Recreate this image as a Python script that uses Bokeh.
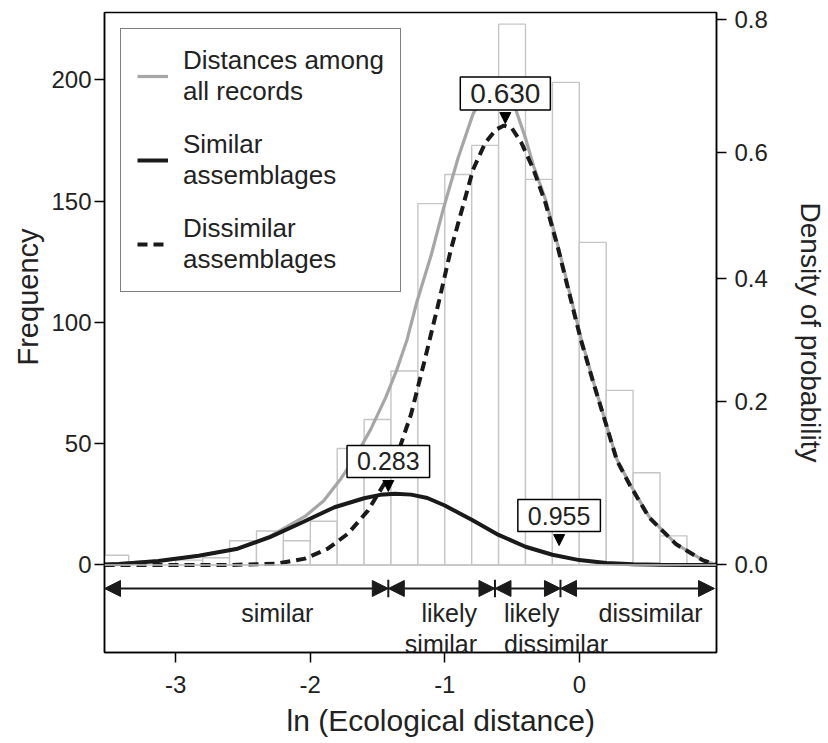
from bokeh.plotting import figure
from bokeh.models import (Range1d, LinearAxis, FixedTicker, CustomJSTickFormatter, Legend,
                          LegendItem, Label, Arrow, NormalHead, Span, ColumnDataSource, Title)
from bokeh.embed import file_html
from bokeh.resources import INLINE

FONT = "Liberation Sans"
INK = "#222222"

# ---------------- data ----------------
# histogram of ln(ecological distance), bin width 0.2
bin_left = [-3.55, -3.0, -2.8, -2.6, -2.4, -2.2, -2.0, -1.8, -1.6, -1.4, -1.2, -1.0,
            -0.8, -0.6, -0.4, -0.2, 0.0, 0.2, 0.4, 0.6]
bin_count = [4, 2, 3, 10, 14, 10, 18, 48, 60, 80, 149, 161, 173, 223, 159, 199, 133, 72, 38, 12]
bin_width = 0.2

# fitted curves (expressed on the frequency scale)
all_x = [-3.53, -3.13, -2.83, -2.54, -2.3, -2.04, -1.9, -1.78, -1.66, -1.55, -1.44, -1.36,
         -1.28, -1.21, -1.1, -1.01, -0.9, -0.79, -0.7, -0.62, -0.54, -0.47, -0.4, -0.34,
         -0.25, -0.16, -0.075, 0.013, 0.1, 0.19, 0.28, 0.375, 0.52, 0.72, 0.92, 1.02]
all_y = [0.2, 1.6, 3.8, 6.8, 11.8, 20.0, 26.5, 35.0, 45.0, 56.0, 69.0, 80.0,
         93.0, 108.0, 128.0, 147.0, 168.0, 186.0, 195.0, 198.0, 195.0, 187.4, 176.0, 164.5,
         150.5, 132.0, 113.0, 93.5, 76.5, 60.0, 43.5, 33.5, 19.8, 8.6, 2.0, 0.0]

similar_x = [-3.53, -3.42, -3.13, -2.83, -2.54, -2.3, -2.05, -1.82, -1.6, -1.48, -1.37, -1.25,
             -1.13, -1.0, -0.8, -0.6, -0.4, -0.2, 0.0, 0.2, 0.4, 0.6, 0.8, 1.02]
similar_y = [0.2, 0.4, 1.6, 3.8, 6.7, 11.5, 17.8, 23.8, 27.5, 28.9, 29.4, 29.0,
             27.6, 24.5, 18.6, 12.4, 7.5, 4.2, 2.0, 0.8, 0.3, 0.1, 0.0, 0.0]

dissimilar_x = [-3.53, -2.6, -2.25, -2.04, -1.87, -1.72, -1.57, -1.45, -1.35, -1.25, -1.15,
                -1.04, -0.955, -0.87, -0.79, -0.7, -0.62, -0.56, -0.5, -0.43, -0.34, -0.25,
                -0.16, -0.075, 0.013, 0.1, 0.19, 0.28, 0.375, 0.52, 0.72, 0.92, 1.02]
dissimilar_y = [0.0, 0.0, 0.5, 2.6, 6.7, 12.9, 22.5, 33.5, 45.9, 62.3, 84.3,
                109.5, 130.0, 147.0, 163.0, 174.0, 179.5, 181.2, 180.0, 174.0, 163.0, 149.0,
                131.0, 112.0, 92.6, 76.0, 59.6, 43.0, 33.0, 19.5, 8.5, 1.9, 0.0]

# axis ticks
freq_ticks = [0, 50, 100, 150, 200]
x_ticks = [-3, -2, -1, 0]
density_labels = ["0.0", "0.2", "0.4", "0.6", "0.8"]
density_tick_at = [0, 67.5, 118.0, 170.0, 225.0]   # where the density ticks sit on the frequency scale

# threshold markers
marker_labels = ["0.283", "0.630", "0.955"]
marker_x = [-1.42, -0.55, -0.15]
marker_y = [30.3, 182.0, 8.0]
marker_font = ["25px", "28px", "25px"]

# zones along the bottom
zone_bounds = [-3.53, -1.42, -0.627, -0.14, 1.005]
zone_names = ["similar", "likely\nsimilar", "likely\ndissimilar", "dissimilar"]
zone_label_x = [-2.245, -0.76, -0.56, 0.53]
zone_align = ["center", "right", "left", "center"]
zone_arrow_y = -9.7
zone_text_y = -14.0

X0, X1 = -3.53, 1.02
Y0, Y1 = -36.1, 227.8

# ---------------- figure ----------------
p = figure(width=828, height=743, x_range=Range1d(X0, X1), y_range=Range1d(Y0, Y1),
           output_backend="svg", toolbar_location=None,
           min_border_left=104, min_border_right=111, min_border_top=12, min_border_bottom=91)
p.grid.visible = False
p.outline_line_color = "black"
p.outline_line_width = 1.5
p.background_fill_color = "white"
p.border_fill_color = "white"

# histogram
hist = ColumnDataSource(dict(left=bin_left,
                             right=[l + bin_width for l in bin_left],
                             top=bin_count,
                             bottom=[0] * len(bin_left)))
p.quad(left="left", right="right", top="top", bottom="bottom", source=hist,
       fill_color="white", line_color="#c6c6c6", line_width=1.4)

p.add_layout(Span(location=0, dimension="width", line_color="#c6c6c6", line_width=1.5))

r_all = p.line(all_x, all_y, line_color="#a6a6a6", line_width=3.2)
r_dis = p.line(dissimilar_x, dissimilar_y, line_color="#1a1a1a", line_width=4, line_dash="10 6")
r_sim = p.line(similar_x, similar_y, line_color="#1a1a1a", line_width=4)

# threshold markers: triangle + boxed value
for lab, mx, my, fs in zip(marker_labels, marker_x, marker_y, marker_font):
    p.add_layout(Arrow(end=NormalHead(size=11, fill_color="black", line_color="black"),
                       x_start=mx, y_start=my + 0.5, x_end=mx, y_end=my,
                       line_alpha=0, line_width=0))
    p.add_layout(Label(x=mx, y=my, y_offset=30, text=lab, text_align="center",
                       text_baseline="alphabetic", text_font=FONT, text_font_size=fs,
                       text_color=INK, background_fill_color="white",
                       border_line_color="black", border_line_width=1.5,
                       padding=dict(left=10, right=10, top=7, bottom=7)))

# zone arrows
for a, b in zip(zone_bounds[:-1], zone_bounds[1:]):
    p.add_layout(Arrow(start=NormalHead(size=16, fill_color="#1a1a1a", line_color="#1a1a1a"),
                       end=NormalHead(size=16, fill_color="#1a1a1a", line_color="#1a1a1a"),
                       x_start=a, y_start=zone_arrow_y, x_end=b, y_end=zone_arrow_y,
                       line_color="#1a1a1a", line_width=2))
inner = zone_bounds[1:-1]
p.segment(x0=inner, x1=inner, y0=[zone_arrow_y + 3.6] * len(inner),
          y1=[zone_arrow_y - 3.6] * len(inner), line_color="#1a1a1a", line_width=2)

for name, zx, al in zip(zone_names, zone_label_x, zone_align):
    p.add_layout(Label(x=zx, y=zone_text_y, text=name, text_align=al, text_baseline="top",
                       text_font=FONT, text_font_size="25px", text_color=INK,
                       text_line_height=1.1))

# axes
p.xaxis.ticker = FixedTicker(ticks=x_ticks)
p.xaxis.major_label_overrides = {t: str(t) for t in x_ticks}
p.yaxis.ticker = FixedTicker(ticks=freq_ticks)

right = LinearAxis(ticker=FixedTicker(ticks=density_tick_at),
                   formatter=CustomJSTickFormatter(
                       args=dict(pos=density_tick_at, lab=density_labels),
                       code="""
let best = 0, d = Infinity;
for (let i = 0; i < pos.length; i++) { const e = Math.abs(pos[i] - tick); if (e < d) { d = e; best = i; } }
return lab[best];"""),
                   axis_label="Density of probability")
p.add_layout(right, "right")

for ax in p.xaxis + p.yaxis:
    ax.axis_line_color = "black"
    ax.axis_line_width = 1.5
    ax.major_tick_line_color = "black"
    ax.major_tick_line_width = 1.5
    ax.major_tick_out = 10
    ax.major_tick_in = 0
    ax.minor_tick_line_color = None
    ax.major_label_text_font = FONT
    ax.major_label_text_font_size = "24px"
    ax.major_label_text_color = INK
    ax.axis_label_text_font = FONT
    ax.axis_label_text_font_size = "28px"
    ax.axis_label_text_font_style = "normal"
    ax.axis_label_text_color = INK

p.xaxis.major_label_standoff = 13
p.yaxis[0].major_label_standoff = 3
right.major_label_standoff = 8
right.axis_label_standoff = 24

# axis titles (side titles, placed where the reference has them)
p.add_layout(Title(text="Frequency", align="left", offset=287, standoff=10,
                   text_font=FONT, text_font_size="29px", text_font_style="normal",
                   text_color=INK), "left")
p.add_layout(Title(text="ln (Ecological distance)", align="left", offset=182, standoff=12,
                   text_font=FONT, text_font_size="30px", text_font_style="normal",
                   text_color=INK), "below")

legend = Legend(items=[LegendItem(label="Distances among\nall records", renderers=[r_all]),
                       LegendItem(label="Similar\nassemblages", renderers=[r_sim]),
                       LegendItem(label="Dissimilar\nassemblages", renderers=[r_dis])],
                location="top_left", margin=16, padding=16, spacing=22,
                glyph_width=31, label_standoff=15,
                label_text_font=FONT, label_text_font_size="26px", label_text_color=INK,
                label_text_line_height=1.12,
                border_line_color="black", border_line_width=1.5,
                background_fill_color="white", background_fill_alpha=1)
p.add_layout(legend)

open("out.html", "w").write(file_html(p, INLINE))
